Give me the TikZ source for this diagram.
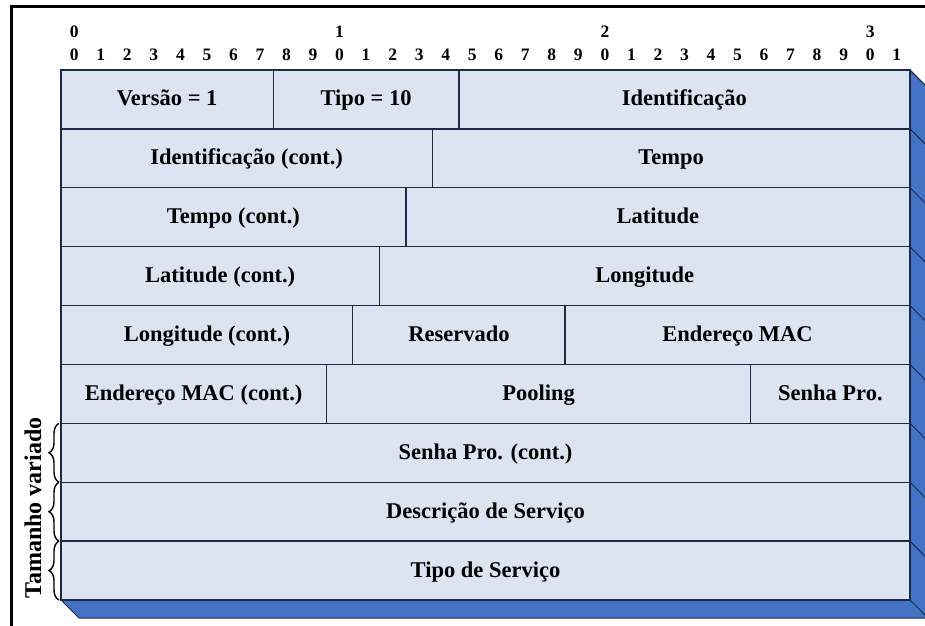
\documentclass[tikz,border=0pt]{standalone}
\usepackage{fontspec}
\setmainfont{Liberation Serif}
\usetikzlibrary{decorations.pathreplacing}
\definecolor{cellfill}{HTML}{DCE4F2}
\definecolor{sideblue}{HTML}{4472C4}
\definecolor{edgenavy}{HTML}{1C2A47}

\begin{document}
\begin{tikzpicture}[x=1pt,y=-1pt,
  field/.style={draw=edgenavy, line width=1.3pt, fill=cellfill, inner sep=0pt,
    outer sep=0pt, text height=13pt, text depth=0pt,
    font=\fontsize{22.5}{26}\selectfont\bfseries, text=black},
  bitnum/.style={inner sep=0pt, font=\fontsize{17.5}{20}\selectfont\bfseries},
  sideface/.style={fill=sideblue, draw=edgenavy, line width=1pt},
  sideedge/.style={draw=edgenavy, line width=0.9pt},
  rowbrace/.style={draw=black, line width=1.4pt,
    decorate, decoration={brace, amplitude=10pt}},
  sidelabel/.style={rotate=90, inner sep=0pt, font=\fontsize{24}{28}\selectfont\bfseries}
]
\useasboundingbox (0,0) rectangle (925,625);
\clip (0,0) rectangle (925,625);

% outer frame
\draw[line width=3pt] (11,6) rectangle (960,660);

% bit ruler: tens and units
\foreach \t in {0,1,2,3}{
  \node[bitnum] (tens\t) at ({61+(10*\t+0.5)*26.53},32) {\t};
}
\foreach \i in {0,...,31}{
  \pgfmathtruncatemacro\u{mod(\i,10)}
  \node[bitnum] (bit\i) at ({61+(\i+0.5)*26.53},55) {\u};
}

% 3D depth faces (right and bottom)
\path[sideface] (61,600) -- (910,600) -- (910,70) -- (928,88) -- (928,618) -- (79,618) -- cycle;
\foreach \k in {0,...,9}{
  \draw[sideedge] (910,{70+\k*58.89}) -- (928,{88+\k*58.89});
}

% header fields
\foreach \nm/\r/\a/\b/\txt in {
  versao/1/0/8/{Versão = 1},
  tipo/1/8/15/{Tipo = 10},
  ident/1/15/32/{Identificação},
  identc/2/0/14/{Identificação (cont.)},
  tempo/2/14/32/{Tempo},
  tempoc/3/0/13/{Tempo (cont.)},
  lat/3/13/32/{Latitude},
  latc/4/0/12/{Latitude (cont.)},
  lon/4/12/32/{Longitude},
  lonc/5/0/11/{Longitude (cont.)},
  reserv/5/11/19/{Reservado},
  mac/5/19/32/{Endereço MAC},
  macc/6/0/10/{Endereço MAC (cont.)},
  pooling/6/10/26/{Pooling},
  senha/6/26/32/{Senha Pro.},
  senhac/7/0/32/{Senha Pro. (cont.)},
  descr/8/0/32/{Descrição de Serviço},
  tiposerv/9/0/32/{Tipo de Serviço}}{
  \pgfmathsetmacro\cx{61+(\a+\b)/2*26.53}
  \pgfmathsetmacro\cy{70+(\r-0.5)*58.89}
  \pgfmathsetmacro\w{(\b-\a)*26.53}
  \node[field, minimum width=\w pt, minimum height=58.89pt] (\nm) at (\cx,\cy) {\txt};
}

% variable-length rows
\draw[rowbrace] ([xshift=-2pt]senhac.south west) -- ([xshift=-2pt]senhac.north west);
\draw[rowbrace] ([xshift=-2pt]descr.south west) -- ([xshift=-2pt]descr.north west);
\draw[rowbrace] ([xshift=-2pt]tiposerv.south west) -- ([xshift=-2pt]tiposerv.north west);
\node[sidelabel] (tamanho) at (33,508) {Tamanho variado};
\end{tikzpicture}
\end{document}
